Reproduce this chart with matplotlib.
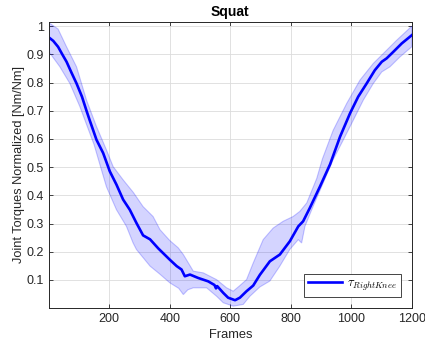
import matplotlib
matplotlib.use('Agg')
import matplotlib.pyplot as plt
import numpy as np

# mean right knee torque (normalized)
mean_frames = [1, 15, 31, 45, 59, 75, 92, 110, 125, 136, 158, 180, 202, 224, 246, 268,
               290, 312, 335, 362, 400, 423, 439, 450, 467, 494, 527, 548, 553, 557,
               577, 593, 616, 632, 654, 676, 698, 731, 764, 797, 825, 841, 863, 897,
               930, 963, 996, 1023, 1051, 1078, 1101, 1117, 1139, 1167, 1200]
mean_vals = [0.96, 0.948, 0.927, 0.90, 0.874, 0.836, 0.797, 0.75, 0.70, 0.665, 0.597,
             0.55, 0.485, 0.438, 0.385, 0.349, 0.302, 0.258, 0.244, 0.212, 0.172,
             0.149, 0.137, 0.113, 0.119, 0.107, 0.095, 0.082, 0.07, 0.078, 0.054,
             0.037, 0.028, 0.037, 0.06, 0.08, 0.118, 0.166, 0.19, 0.237, 0.29, 0.308,
             0.355, 0.432, 0.51, 0.608, 0.691, 0.75, 0.797, 0.844, 0.874, 0.886,
             0.909, 0.939, 0.968]

# band upper / lower edges
upper_frames = [1, 31, 59, 92, 125, 158, 191, 213, 246, 280, 312, 345, 368, 400, 428,
                445, 478, 511, 555, 588, 610, 632, 654, 676, 709, 742, 775, 808, 830,
                853, 886, 905, 940, 985, 1029, 1073, 1106, 1150, 1200]
upper_vals = [1.012, 0.99, 0.927, 0.856, 0.738, 0.644, 0.561, 0.502, 0.455, 0.41,
              0.36, 0.325, 0.278, 0.24, 0.214, 0.19, 0.131, 0.125, 0.101, 0.072, 0.06,
              0.08, 0.101, 0.16, 0.243, 0.284, 0.308, 0.325, 0.343, 0.373, 0.46, 0.53,
              0.63, 0.726, 0.809, 0.868, 0.903, 0.95, 1.0]
lower_frames = [1, 37, 70, 103, 136, 150, 169, 191, 224, 257, 279, 290, 335, 368, 400,
                430, 445, 460, 478, 522, 555, 577, 610, 643, 665, 698, 731, 764, 797,
                825, 836, 847, 874, 907, 940, 974, 1007, 1040, 1073, 1101, 1128, 1161,
                1200]
lower_vals = [0.909, 0.856, 0.797, 0.715, 0.62, 0.58, 0.51, 0.43, 0.349, 0.29, 0.231,
              0.208, 0.149, 0.12, 0.09, 0.07, 0.048, 0.065, 0.072, 0.072, 0.042, 0.019,
              0.007, 0.013, 0.042, 0.075, 0.096, 0.149, 0.208, 0.243, 0.231, 0.29,
              0.361, 0.443, 0.526, 0.597, 0.667, 0.738, 0.797, 0.838, 0.856, 0.891,
              0.927]

plt.rcParams['font.family'] = ['Liberation Sans', 'DejaVu Sans']
plt.rcParams['mathtext.fontset'] = 'cm'

fig = plt.figure(figsize=(4.25, 3.47), dpi=100)
ax = fig.add_axes([0.1153, 0.1133, 0.8535, 0.8233])

poly_x = upper_frames + lower_frames[::-1]
poly_y = upper_vals + lower_vals[::-1]
ax.fill(poly_x, poly_y, facecolor=(0.0, 0.0, 1.0, 0.17),
        edgecolor=(0.0, 0.0, 1.0, 0.22), linewidth=0.8)
ax.plot(mean_frames, mean_vals, color='#0000ff', linewidth=1.9,
        label=r'$\tau_{RightKnee}$')

ax.set_xlim(1, 1200)
ax.set_ylim(0.0015, 1.015)
ax.set_xticks([200, 400, 600, 800, 1000, 1200])
ax.set_yticks([0.1, 0.2, 0.3, 0.4, 0.5, 0.6, 0.7, 0.8, 0.9, 1.0])
ax.set_yticklabels(['0.1', '0.2', '0.3', '0.4', '0.5', '0.6', '0.7', '0.8', '0.9', '1'])
ax.grid(True, color='#dcdcdc', linewidth=0.6)
ax.set_axisbelow(True)
ax.tick_params(direction='in', length=3, width=0.6, colors='#262626', labelsize=9,
               top=True, right=True)
for s in ax.spines.values():
    s.set_color('#262626')
    s.set_linewidth(0.7)

ax.set_xlabel('Frames', fontsize=9.3, color='#262626', labelpad=3.5)
ax.set_ylabel('Joint Torques Normalized [Nm/Nm]', fontsize=9.2, color='#262626', labelpad=1)
ax.set_title('Squat', fontsize=10, fontweight='bold', pad=4)

leg = ax.legend(loc='lower right', fontsize=9, fancybox=False, framealpha=1,
                edgecolor='#262626', handlelength=2.7, handletextpad=0.4,
                borderpad=0.3, borderaxespad=0, bbox_to_anchor=(0.9697, 0.0385))
leg.get_frame().set_linewidth(0.6)

fig.savefig('out.png', dpi=100)
